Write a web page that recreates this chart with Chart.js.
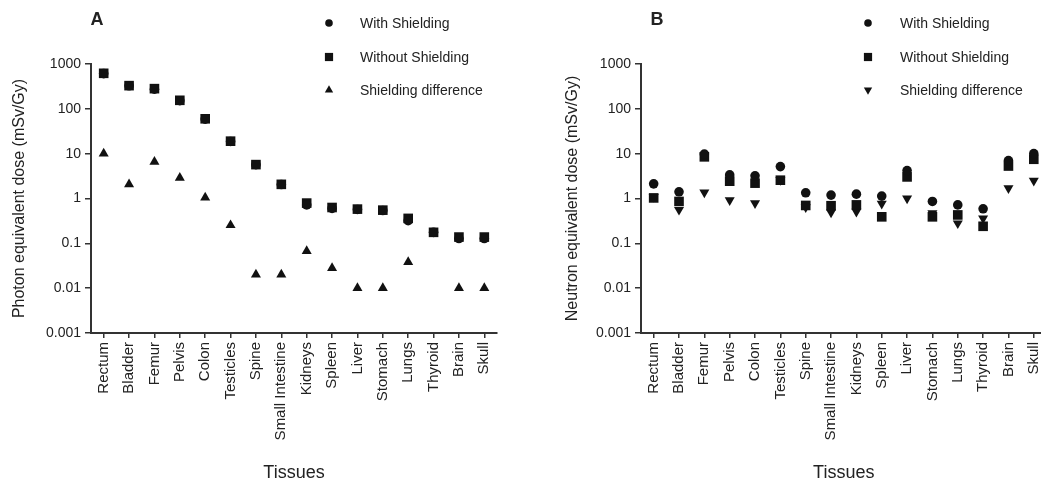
<!DOCTYPE html>
<html>
<head>
<meta charset="utf-8">
<script src="https://cdn.jsdelivr.net/npm/chart.js@4/dist/chart.umd.min.js"></script>
<style>
  html, body { margin: 0; padding: 0; background: #fff; overflow: hidden; }
  body { width: 1041px; height: 483px; position: relative; }
  canvas { position: absolute; top: 0; }
  #chartA { left: 0; }
  #chartB { left: 540px; }
</style>
</head>
<body>
<canvas id="chartA" width="520" height="483"></canvas>
<canvas id="chartB" width="516" height="483"></canvas>
<script>
// ===== DATA =====
const tissues = [
  "Rectum", "Bladder", "Femur", "Pelvis", "Colon", "Testicles", "Spine",
  "Small Intestine", "Kidneys", "Spleen", "Liver", "Stomach", "Lungs",
  "Thyroid", "Brain", "Skull",
];

// panel A, photon equivalent dose (mSv/Gy)
const photonWith = [610, 327, 275, 152, 59, 18.7, 5.68, 2.05, 0.72, 0.6, 0.57, 0.54, 0.32, 0.176, 0.128, 0.128];
const photonWithout = [620, 329, 282, 155, 60, 19, 5.7, 2.07, 0.79, 0.63, 0.58, 0.55, 0.36, 0.176, 0.138, 0.138];
const photonDiff = [10, 2.07, 6.6, 2.9, 1.05, 0.254, 0.02, 0.02, 0.067, 0.028, 0.01, 0.01, 0.038, null, 0.01, 0.01];

// panel B, neutron equivalent dose (mSv/Gy)
const neutronWith = [2.12, 1.41, 9.8, 3.36, 3.2, 5.15, 1.34, 1.19, 1.25, 1.13, 4.2, 0.86, 0.72, 0.59, 7.0, 10];
const neutronWithout = [1.03, 0.86, 8.5, 2.43, 2.2, 2.56, 0.7, 0.69, 0.72, 0.39, 3.03, 0.39, 0.43, 0.24, 5.3, 7.5];
const neutronDiff = [1.09, 0.56, 1.36, 0.92, 0.79, 2.6, 0.64, 0.49, 0.51, 0.77, 1.0, 0.47, 0.28, 0.36, 1.7, 2.5];

const yTicks = [0.001, 0.01, 0.1, 1, 10, 100, 1000];
const yTickLabels = ["0.001", "0.01", "0.1", "1", "10", "100", "1000"];
const seriesLabels = ["With Shielding", "Without Shielding", "Shielding difference"];

const FONT = "'Liberation Sans', Arial, Helvetica, sans-serif";
const INK = "#222";
const MARK = "#111";

// legend + panel letter drawn on top of the chart
const panelLegend = {
  id: "panelLegend",
  afterDraw(chart, args, o) {
    const ctx = chart.ctx;
    ctx.save();
    ctx.fillStyle = INK;
    ctx.font = "bold 18px " + FONT;
    ctx.textAlign = "center";
    ctx.textBaseline = "middle";
    ctx.fillText(o.letter, o.letterX, o.letterY);

    ctx.font = "14px " + FONT;
    ctx.textAlign = "left";
    chart.data.datasets.forEach((ds, i) => {
      const y = o.ys[i];
      ctx.fillStyle = MARK;
      ctx.strokeStyle = MARK;
      Chart.helpers.drawPoint(ctx, {
        pointStyle: ds.pointStyle,
        radius: ds.pointRadius - 1,
        rotation: ds.rotation || 0,
        borderWidth: 0,
      }, o.markX, y);
      ctx.fillStyle = INK;
      ctx.fillText(ds.label, o.textX, y + 1);
    });
    ctx.restore();
  },
};

function makePanel(canvasId, cfg) {
  const ctx = document.getElementById(canvasId);
  const datasets = [
    { label: seriesLabels[0], data: cfg.withData, pointStyle: "circle", pointRadius: 4.8 },
    { label: seriesLabels[1], data: cfg.withoutData, pointStyle: "rect", pointRadius: 6.8 },
    { label: seriesLabels[2], data: cfg.diffData, pointStyle: "triangle", pointRadius: 5.8, rotation: cfg.diffRotation },
  ].map((d) => ({
    ...d,
    showLine: false,
    backgroundColor: MARK,
    borderColor: MARK,
    borderWidth: 0,
    pointBackgroundColor: MARK,
    pointBorderWidth: 0,
    pointHoverRadius: d.pointRadius,
    pointRotation: d.rotation || 0,
    clip: false,
  }));

  return new Chart(ctx, {
    type: "line",
    data: { labels: tissues, datasets: datasets },
    options: {
      responsive: false,
      animation: false,
      devicePixelRatio: 1,
      layout: { padding: { top: 64, right: cfg.padRight, bottom: 0, left: 0 } },
      plugins: {
        legend: { display: false },
        tooltip: { enabled: false },
        panelLegend: cfg.legend,
      },
      scales: {
        x: {
          type: "category",
          offset: true,
          grid: {
            offset: false,
            drawOnChartArea: false,
            drawTicks: true,
            tickLength: 5,
            color: "#333",
            lineWidth: 1.5,
          },
          border: { display: true, color: "#333", width: 2 },
          ticks: {
            color: INK,
            font: { family: FONT, size: 15 },
            minRotation: 90,
            maxRotation: 90,
            autoSkip: false,
            padding: 4,
          },
          title: {
            display: true,
            text: "Tissues",
            color: INK,
            font: { family: FONT, size: 18, lineHeight: 1 },
            padding: { top: 0, bottom: 1 },
          },
          afterFit: (scale) => { scale.height = 150; },
        },
        y: {
          type: "logarithmic",
          min: 0.001,
          max: 1000,
          afterBuildTicks: (scale) => {
            scale.ticks = yTicks.map((v) => ({ value: v }));
          },
          grid: {
            drawOnChartArea: false,
            drawTicks: true,
            tickLength: 6,
            color: "#333",
            lineWidth: 1.5,
          },
          border: { display: true, color: "#333", width: 2 },
          ticks: {
            color: INK,
            font: { family: FONT, size: 14 },
            padding: 4,
            callback: (value, index) => yTickLabels[index],
          },
          title: {
            display: true,
            text: cfg.yTitle,
            color: INK,
            font: { family: FONT, size: 16 },
            padding: { top: cfg.titlePad, bottom: 0 },
          },
          afterFit: (scale) => { scale.width = cfg.yWidth; },
        },
      },
    },
    plugins: [panelLegend],
  });
}

makePanel("chartA", {
  withData: photonWith,
  withoutData: photonWithout,
  diffData: photonDiff,
  diffRotation: 0,
  yTitle: "Photon equivalent dose (mSv/Gy)",
  yWidth: 91,
  titlePad: 10,
  padRight: 23,
  legend: { letter: "A", letterX: 97, letterY: 20, markX: 329, textX: 360, ys: [23, 57, 90] },
});

makePanel("chartB", {
  withData: neutronWith,
  withoutData: neutronWithout,
  diffData: neutronDiff,
  diffRotation: 180,
  yTitle: "Neutron equivalent dose (mSv/Gy)",
  yWidth: 101,
  titlePad: 23,
  padRight: 0,
  legend: { letter: "B", letterX: 117, letterY: 20, markX: 328, textX: 360, ys: [23, 57, 90] },
});
</script>
</body>
</html>
